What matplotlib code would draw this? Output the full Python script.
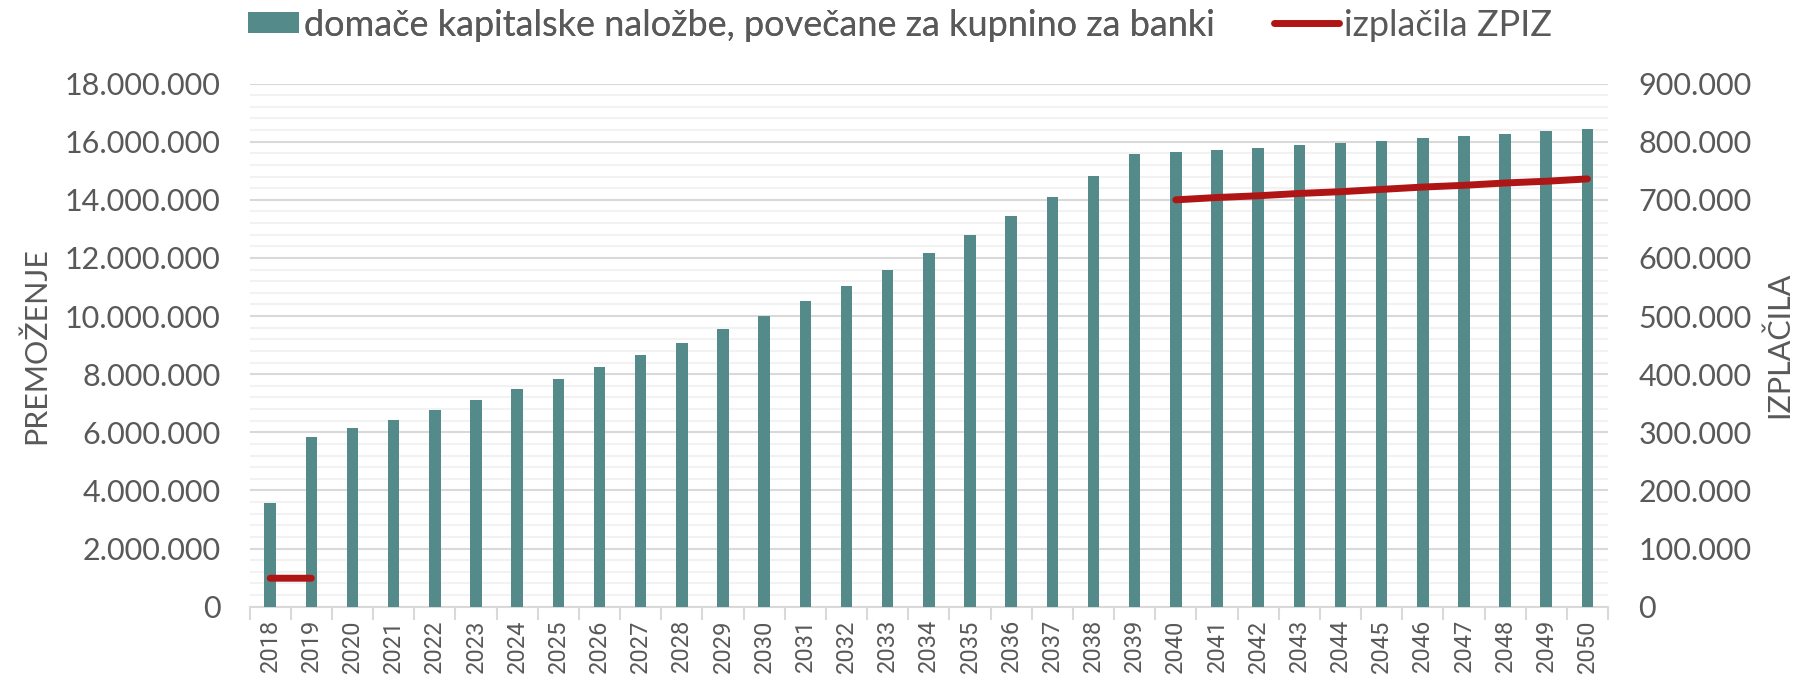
import numpy as np
import matplotlib
matplotlib.use("Agg")
import matplotlib.pyplot as plt
from matplotlib.ticker import FuncFormatter, MultipleLocator, FixedLocator
from matplotlib.patches import Patch
from matplotlib.lines import Line2D

years = [str(y) for y in range(2018, 2051)]
premozenje = [3570000, 5840000, 6140000, 6440000, 6770000, 7100000, 7480000,
              7850000, 8240000, 8650000, 9090000, 9540000, 10020000, 10520000,
              11040000, 11590000, 12180000, 12790000, 13430000, 14100000,
              14820000, 15570000, 15630000, 15710000, 15800000, 15880000,
              15960000, 16040000, 16120000, 16210000, 16280000, 16360000, 16440000]
izplacila = [49000, 49000] + [None] * 20 + [700000, 704000, 707000, 711000, 714000,
                                           718000, 722000, 725000, 729000, 732000, 736000]
bar_label = "domače kapitalske naložbe, povečane za kupnino za banki"
line_label = "izplačila ZPIZ"
left_label = "PREMOŽENJE"
right_label = "IZPLAČILA"

FONT = "Lato"
TXT = "#595959"
BAR = "#548B8A"
RED = "#B01515"
FS = 22
LFS = 26

plt.rcParams["font.family"] = [FONT, "DejaVu Sans"]

W, H = 1795, 684
fig = plt.figure(figsize=(W / 100, H / 100), dpi=100)
left, right, top, bottom = 249.6, 1608, 83.6, 606.7
ax = fig.add_axes([left / W, 1 - bottom / H, (right - left) / W, (bottom - top) / H])
ax2 = ax.twinx()

x = np.arange(len(years))
ax.bar(x, premozenje, width=0.28, color=BAR, zorder=3)
ax.set_xlim(-0.5, len(years) - 0.5)
ax.set_ylim(0, 18000000)
ax.yaxis.set_major_locator(MultipleLocator(2000000))
ax.yaxis.set_minor_locator(MultipleLocator(400000))
fmt = FuncFormatter(lambda v, p: f"{v:,.0f}".replace(",", "."))
ax.yaxis.set_major_formatter(fmt)
ax.grid(axis="y", which="major", color="#D9D9D9", lw=1.5, zorder=0)
ax.grid(axis="y", which="minor", color="#F2F2F2", lw=1.5, zorder=0)
ax.set_axisbelow(True)

ax.set_xticks(x)
ax.set_xticklabels(years, rotation=90, fontsize=17, color=TXT, fontfamily=["Roboto", "DejaVu Sans"])
ax.xaxis.set_minor_locator(FixedLocator(np.arange(-0.5, len(years), 1.0)))
ax.tick_params(axis="x", which="major", length=0, pad=9)
ax.tick_params(axis="x", which="minor", length=9, color="#D9D9D9", width=1.5)
ax.tick_params(axis="y", which="both", length=0, labelsize=FS, labelcolor=TXT, pad=21)

for s in ["top", "right", "left"]:
    ax.spines[s].set_visible(False)
    ax2.spines[s].set_visible(False)
ax.spines["bottom"].set_color("#D9D9D9")
ax.spines["bottom"].set_linewidth(1.5)
ax2.spines["bottom"].set_visible(False)

iz = np.array([np.nan if v is None else v for v in izplacila], dtype=float)
ax2.plot(x, iz, color=RED, lw=5, solid_capstyle="round", zorder=4)
ax2.set_ylim(0, 900000)
ax2.yaxis.set_major_locator(MultipleLocator(100000))
ax2.yaxis.set_major_formatter(fmt)
ax2.tick_params(axis="y", which="both", length=0, labelsize=FS, labelcolor=TXT, pad=22)

ax.set_ylabel(left_label, fontsize=FS, color=TXT, labelpad=10)
ax2.set_ylabel(right_label, fontsize=FS, color=TXT, labelpad=9, rotation=90)

# legends
h1 = Patch(facecolor=BAR, edgecolor="none")
leg1 = fig.legend([h1], [bar_label], loc="center left",
                  bbox_to_anchor=(248 / W, 1 - 25 / H), frameon=False,
                  fontsize=LFS, handlelength=1.4, handleheight=0.5,
                  handletextpad=0.15, borderpad=0, borderaxespad=0, labelcolor=TXT)
h2 = Line2D([0], [0], color=RED, lw=5, solid_capstyle="round")
leg2 = fig.legend([h2], [line_label], loc="center left",
                  bbox_to_anchor=(1274 / W, 1 - 25 / H), frameon=False,
                  fontsize=LFS, handlelength=1.8, handletextpad=0.15,
                  borderpad=0, borderaxespad=0, labelcolor=TXT)
fig.add_artist(leg1)

fig.savefig("out.png", dpi=100)
